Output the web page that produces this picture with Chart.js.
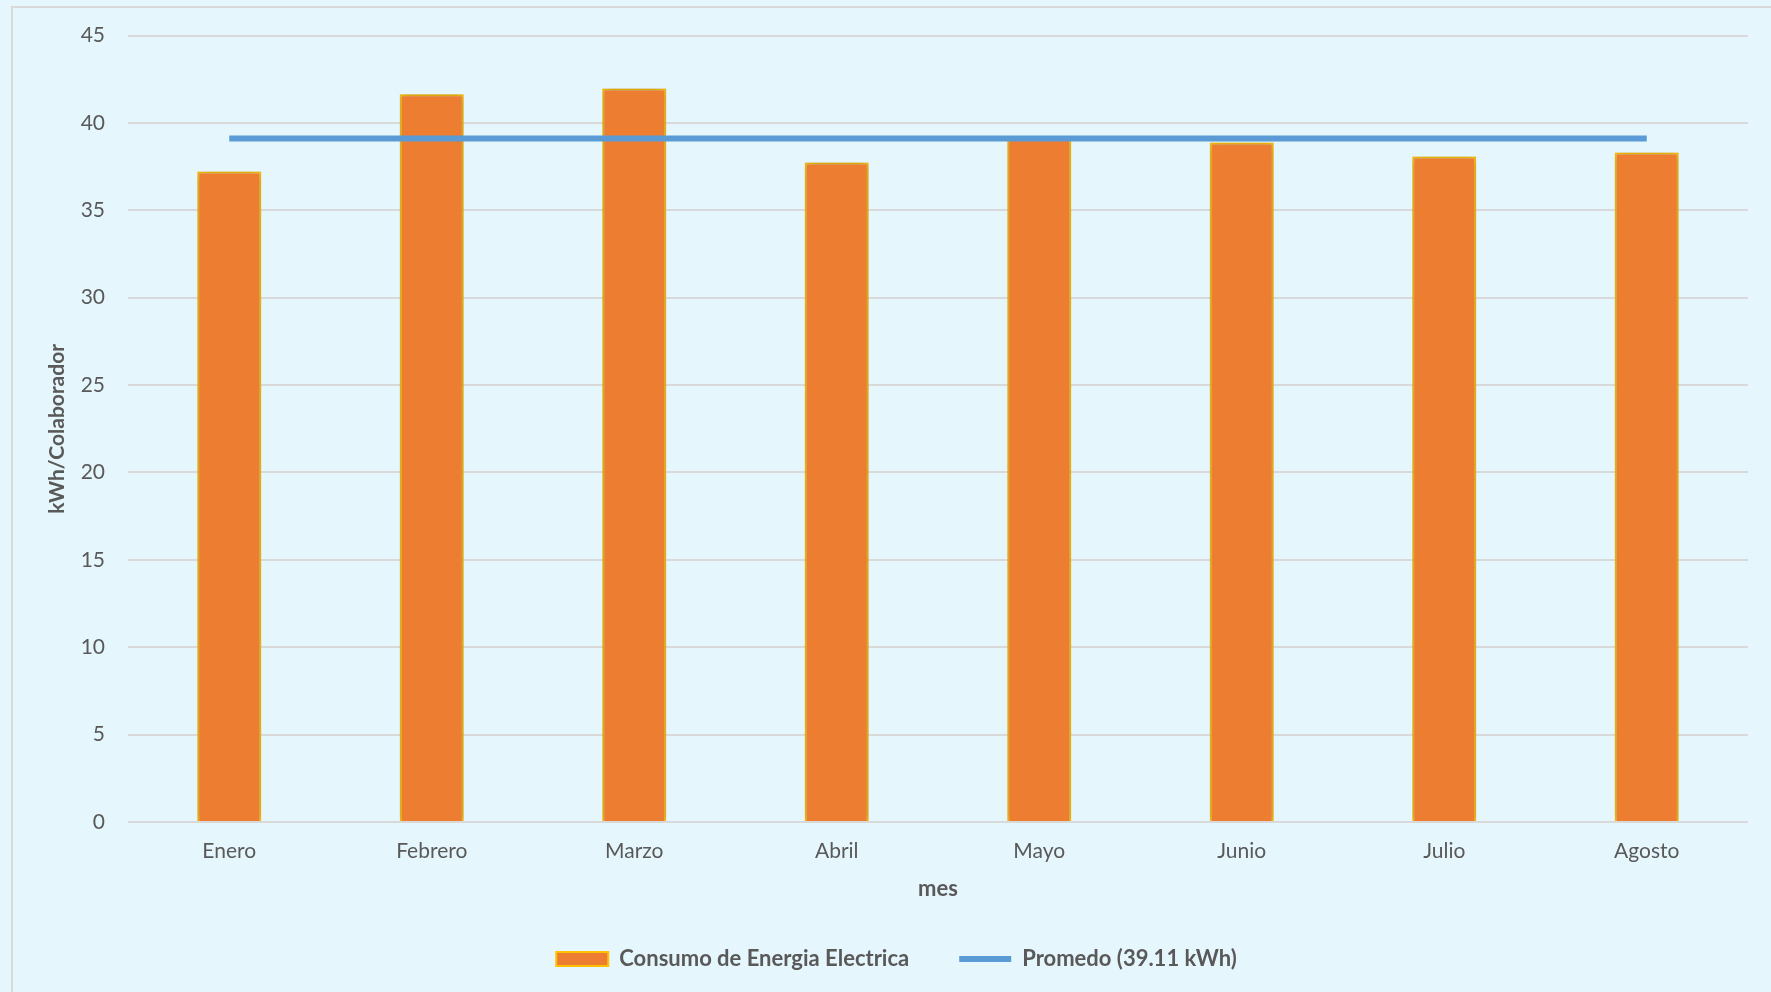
<!DOCTYPE html>
<html>
<head>
<meta charset="utf-8">
<script src="https://cdn.jsdelivr.net/npm/chart.js@4.4.0/dist/chart.umd.min.js"></script>
<style>
  html, body { margin: 0; padding: 0; background: #E5F6FD; }
  #wrap { width: 1771px; height: 992px; position: relative; }
</style>
</head>
<body>
<div id="wrap"><canvas id="myChart"></canvas></div>
<script>
var meses = ["Enero", "Febrero", "Marzo", "Abril", "Mayo", "Junio", "Julio", "Agosto"];
var consumo = [37.22, 41.65, 41.98, 37.74, 39.15, 38.88, 38.08, 38.31];
var promedio = [39.11, 39.11, 39.11, 39.11, 39.11, 39.11, 39.11, 39.11];
var yTicks = [0, 5, 10, 15, 20, 25, 30, 35, 40, 45];

var textColor = "#595959";
var gridColor = "#D9D9D9";
var fontName = "Lato";

// marco gris y sombra de las barras
var marco = {
  id: "marco",
  beforeDraw: function (chart) {
    var ctx = chart.ctx;
    ctx.save();
    ctx.strokeStyle = "#D9D9D9";
    ctx.lineWidth = 2;
    ctx.strokeRect(12, 7, 2000, 2000);
    ctx.restore();
  },
  beforeDatasetDraw: function (chart, args) {
    if (args.index !== 0) return;
    var ctx = chart.ctx;
    ctx.save();
    ctx.shadowColor = "rgba(60,60,60,0.4)";
    ctx.shadowBlur = 9;
  },
  afterDatasetDraw: function (chart, args) {
    if (args.index !== 0) return;
    chart.ctx.restore();
  },
  afterDraw: function (chart) {
    // linea del promedio en la leyenda
    var lg = chart.legend;
    var ctx = chart.ctx;
    lg.legendItems.forEach(function (item, i) {
      if (item.datasetIndex !== 1) return;
      var hb = lg.legendHitBoxes[i];
      ctx.save();
      ctx.fillStyle = "#5B9BD5";
      ctx.fillRect(hb.left, hb.top + hb.height / 2 - 3, 52, 6);
      ctx.restore();
    });
  },
};

new Chart("myChart", {
  type: "bar",
  data: {
    labels: meses,
    datasets: [
      {
        label: "Consumo de Energia Electrica",
        data: consumo,
        backgroundColor: "#ED7D31",
        borderColor: "#FFC000",
        borderWidth: 2,
        categoryPercentage: 1,
        barPercentage: 0.316,
        order: 1,
      },
      {
        type: "line",
        label: "Promedo (39.11 kWh)",
        data: promedio,
        borderColor: "#5B9BD5",
        backgroundColor: "#5B9BD5",
        borderWidth: 6,
        borderCapStyle: "butt",
        pointRadius: 0,
        fill: false,
        order: 0,
      },
    ],
  },
  options: {
    responsive: true,
    maintainAspectRatio: false,
    animation: false,
    layout: { padding: { left: 45, top: 35, right: 23, bottom: 12 } },
    plugins: {
      tooltip: { enabled: false },
      legend: {
        position: "bottom",
        labels: {
          boxWidth: 52,
          boxHeight: 14,
          padding: 50,
          color: textColor,
          font: { family: fontName, size: 22, weight: "bold" },
          sort: function (a, b) { return a.datasetIndex - b.datasetIndex; },
          generateLabels: function (chart) {
            var items = Chart.defaults.plugins.legend.labels.generateLabels(chart);
            items.forEach(function (it) {
              if (it.datasetIndex === 0) {
                it.fillStyle = "#ED7D31";
                it.strokeStyle = "#FFC000";
                it.lineWidth = 2;
              } else {
                it.fillStyle = "rgba(0,0,0,0)";
                it.strokeStyle = "rgba(0,0,0,0)";
                it.lineWidth = 0;
              }
            });
            return items;
          },
        },
      },
    },
    scales: {
      x: {
        grid: { display: false },
        border: { display: false },
        ticks: { color: textColor, padding: 9, font: { family: fontName, size: 21 } },
        title: {
          display: true,
          text: "mes",
          color: textColor,
          padding: { top: 0, bottom: -4 },
          font: { family: fontName, size: 22, weight: "bold" },
        },
        afterFit: function (scale) { scale.height = 76; },
      },
      y: {
        min: 0,
        max: 45,
        afterBuildTicks: function (scale) {
          scale.ticks = yTicks.map(function (v) { return { value: v }; });
        },
        grid: { color: gridColor, lineWidth: 2, drawTicks: false },
        border: { display: false },
        ticks: { color: textColor, padding: 23, font: { family: fontName, size: 21 } },
        title: {
          display: true,
          text: "kWh/Colaborador",
          color: textColor,
          padding: { top: 0, bottom: 0 },
          font: { family: fontName, size: 21, weight: "bold" },
        },
        afterFit: function (scale) { scale.width = 83; },
      },
    },
  },
  plugins: [marco],
});
</script>
</body>
</html>
